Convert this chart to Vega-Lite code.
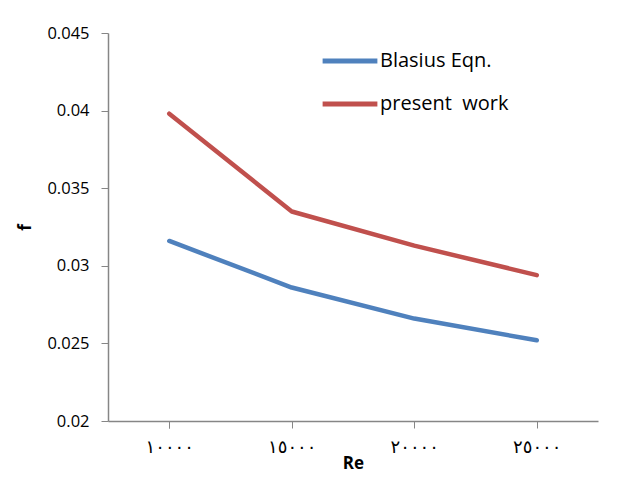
{
  "$schema": "https://vega.github.io/schema/vega-lite/v6.json",
  "autosize": {"type": "none"},
  "width": 490,
  "height": 388,
  "padding": {"left": 108, "top": 33, "right": 20, "bottom": 56},
  "background": "white",
  "config": {
    "view": {"stroke": null},
    "font": "Open Sans",
    "axis": {"domainColor": "#868686", "tickColor": "#868686", "grid": false, "labelColor": "#000000", "titleColor": "#000000"}
  },
  "data": {
    "values": [
      {"Re": "١٠٠٠٠", "series": "Blasius Eqn.", "f": 0.0316},
      {"Re": "١٥٠٠٠", "series": "Blasius Eqn.", "f": 0.0286},
      {"Re": "٢٠٠٠٠", "series": "Blasius Eqn.", "f": 0.0266},
      {"Re": "٢٥٠٠٠", "series": "Blasius Eqn.", "f": 0.0252},
      {"Re": "١٠٠٠٠", "series": "present\u00a0 work", "f": 0.0398},
      {"Re": "١٥٠٠٠", "series": "present\u00a0 work", "f": 0.0335},
      {"Re": "٢٠٠٠٠", "series": "present\u00a0 work", "f": 0.0313},
      {"Re": "٢٥٠٠٠", "series": "present\u00a0 work", "f": 0.0294}
    ]
  },
  "mark": {"type": "line", "strokeWidth": 4.5, "strokeCap": "round", "strokeJoin": "round"},
  "encoding": {
    "x": {
      "field": "Re", "type": "ordinal",
      "sort": ["١٠٠٠٠", "١٥٠٠٠", "٢٠٠٠٠", "٢٥٠٠٠"],
      "scale": {"type": "point", "padding": 0.5},
      "axis": {"title": "Re", "titleFontSize": 17, "titleFontWeight": "bold", "titlePadding": -1,
               "labelAngle": 0, "labelFont": "DejaVu Sans", "labelFontSize": 18, "labelPadding": 10,
               "tickSize": 7, "tickBand": "extent", "domainWidth": 1.5}
    },
    "y": {
      "field": "f", "type": "quantitative",
      "scale": {"domain": [0.02, 0.045], "nice": false, "zero": false},
      "axis": {"title": "f", "titleFontSize": 17, "titleFontWeight": "bold", "titlePadding": 12,
               "values": [0.02, 0.025, 0.03, 0.035, 0.04, 0.045], "format": "~g",
               "labelFontSize": 16.5, "labelPadding": 12, "tickSize": 7, "domainWidth": 1.5}
    },
    "color": {
      "field": "series", "type": "nominal",
      "scale": {"domain": ["Blasius Eqn.", "present\u00a0 work"], "range": ["#4F81BD", "#C0504D"]},
      "legend": {"title": null, "orient": "none", "legendX": 212, "legendY": -2,
                 "symbolType": "stroke", "symbolSize": 3000, "symbolStrokeWidth": 5,
                 "labelFontSize": 20, "labelOffset": 0, "rowPadding": 3, "labelLimit": 300}
    }
  }
}
